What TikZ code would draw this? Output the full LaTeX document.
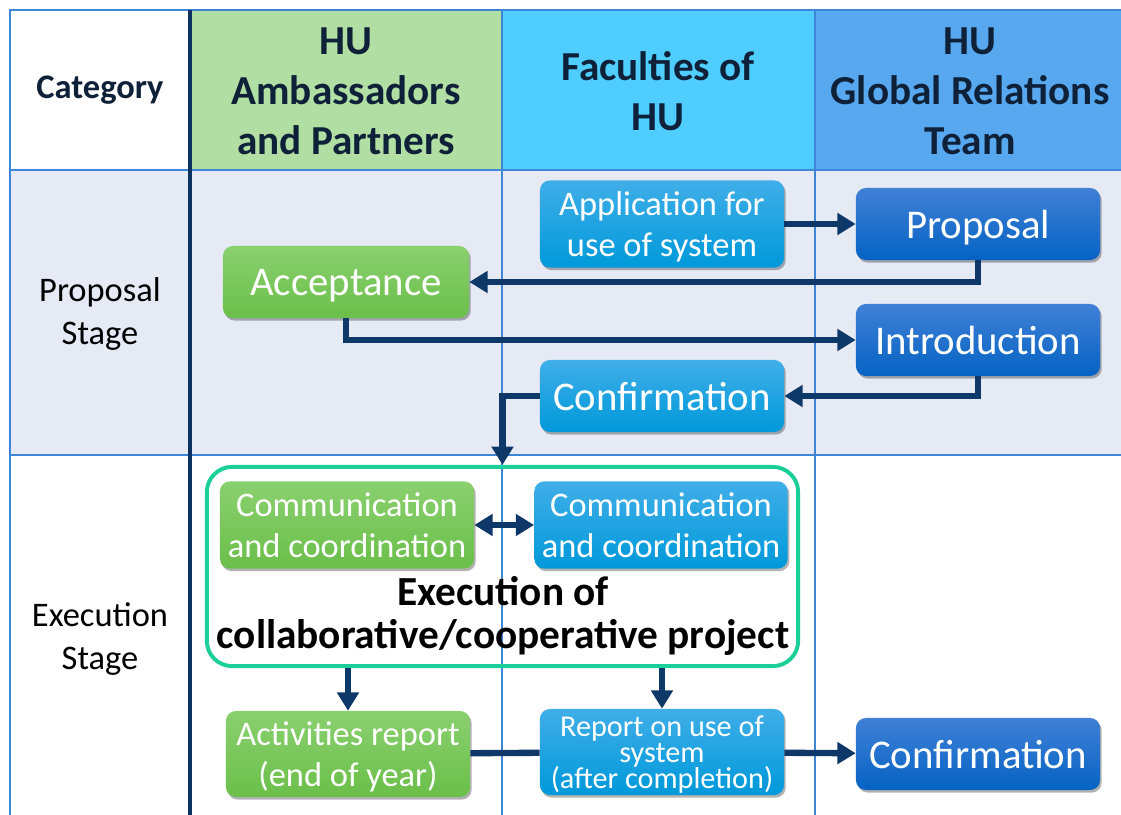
\documentclass[tikz,border=0pt]{standalone}
\usepackage{fontspec}
\setmainfont{Carlito}
\usepackage{tikz}
\usetikzlibrary{arrows.meta,shadows}

\definecolor{headgreen}{HTML}{B1DEA2}
\definecolor{headcyan}{HTML}{4FCDFF}
\definecolor{headblue}{HTML}{58A8F0}
\definecolor{lavender}{HTML}{E6EAF5}
\definecolor{gridblue}{HTML}{3F86D6}
\definecolor{navy}{HTML}{0B3260}
\definecolor{headtextcol}{HTML}{0F2138}
\definecolor{arrowcol}{HTML}{0D3868}
\definecolor{greentop}{HTML}{8AD06F}
\definecolor{greenbot}{HTML}{6BBF4A}
\definecolor{cyantop}{HTML}{40AEE8}
\definecolor{cyanbot}{HTML}{0099DA}
\definecolor{bluetop}{HTML}{4080D6}
\definecolor{bluebot}{HTML}{0563C3}
\definecolor{framegreen}{HTML}{1ACF98}

\tikzset{
	gridline/.style={draw=gridblue, line width=1pt},
	headtext/.style={text=headtextcol, align=center, font=\bfseries\fontsize{29.3}{35.5}\selectfont},
	stagetext/.style={align=center, font=\fontsize{24.5}{30}\selectfont},
	box/.style={rounded corners=7pt, text=white, align=center, inner sep=2pt,
		minimum width=6.1cm, minimum height=1.8cm, text depth=0pt,
		drop shadow={shadow xshift=1.2pt, shadow yshift=-1.8pt, opacity=0.3, fill=black},
		font=\fontsize{29}{29}\selectfont},
	greenbox/.style={box, top color=greentop, bottom color=greenbot},
	cyanbox/.style={box, top color=cyantop, bottom color=cyanbot},
	bluebox/.style={box, top color=bluetop, bottom color=bluebot},
	twoline/.style={minimum height=2.18cm, font=\fontsize{24.5}{29}\selectfont},
	execframe/.style={draw=framegreen, line width=2.8pt, rounded corners=18pt,
		minimum width=14.78cm, minimum height=4.98cm},
	execlabel/.style={align=center, font=\bfseries\fontsize{29.4}{30}\selectfont},
	flowline/.style={draw=arrowcol, line width=4.5pt},
	flow/.style={flowline, -{Triangle[width=15pt,length=13pt]}},
	flowboth/.style={flowline, {Triangle[width=15pt,length=13pt]}-{Triangle[width=15pt,length=13pt]}},
}

\begin{document}
\begin{tikzpicture}[x=0.025cm,y=-0.025cm]
	\useasboundingbox (0,0) rectangle (1121,815);
	\fill[white] (0,0) rectangle (1121,815);
	\fill[headgreen] (190,10) rectangle (502,170);
	\fill[headcyan] (502,10) rectangle (815,170);
	\fill[headblue] (815,10) rectangle (1121,170);
	\fill[lavender] (10,170) rectangle (1121,455);
	
	\draw[gridline] (10,815) -- (10,10) -- (1121,10);
	\draw[gridline] (10,170) -- (1121,170);
	\draw[gridline] (10,455) -- (1121,455);
	\draw[gridline] (502,10) -- (502,815);
	\draw[gridline] (815,10) -- (815,815);
	\draw[navy, line width=2.2pt] (190,10) -- (190,815);
	
	\node[headtext, font=\bfseries\fontsize{24.5}{28}\selectfont] (cat)at(100,90) {Category};
	\node[headtext] (amb)at(346,91) {HU\\Ambassadors\\and Partners};
	\node[headtext] (fac)at(658,91) {Faculties of\\HU};
	\node[headtext] (grt)at(970,91) {HU\\Global Relations\\Team};
	\node[stagetext] (propstage)at(100,314) {Proposal\\Stage};
	\node[stagetext] (execstage)at(100,639) {Execution\\Stage};
	
	\node[cyanbox, twoline] (apply)at(662,224) {Application for\\use of system};
	\node[bluebox] (prop)at(978,224) {Proposal};
	\node[greenbox, minimum width=6.15cm] (accept)at(346,282) {Acceptance};
	\node[bluebox] (intro)at(978,340) {Introduction};
	\node[cyanbox] (conf)at(662,396) {Confirmation};
	
	\node[execframe] (exec)at(502.5,566.5) {};
	\node[greenbox, twoline, minimum width=6.35cm] (commA)at(347,525) {Communication\\and coordination};
	\node[cyanbox, twoline, minimum width=6.33cm] (commB)at(661,525) {Communication\\and coordination};
	\node[execlabel] (exectext)at(503,616) {Execution of\\collaborative/cooperative project};
	
	\node[greenbox, twoline, minimum height=2.15cm] (actrep)at(348,754) {Activities report\\(end of year)};
	\node[cyanbox, twoline, minimum height=2.15cm, font={\fontsize{21.5}{18.5}\selectfont\lineskiplimit=-100pt\relax}] (sysrep)at(662,752) {Report on use of\\system\\(after completion)};
	\node[bluebox] (confgr)at(978,754) {Confirmation};
	
	\draw[flow] (apply) -- (prop);
	\draw[flow] (prop.south) |- (accept.east);
	\draw[flow] (accept.south) |- (intro.west);
	\draw[flow] (intro.south) |- (conf.east);
	\draw[flow] (conf.west) -| (exec.north);
	\draw[flowboth] (commA) -- (commB);
	\draw[flow] (exec.south -| actrep.north) -- (actrep.north);
	\draw[flow] (exec.south -| sysrep.north) -- (sysrep.north);
	\draw[flowline] (actrep) -- (sysrep);
	\draw[flow] (sysrep) -- (confgr);
\end{tikzpicture}
\end{document}
